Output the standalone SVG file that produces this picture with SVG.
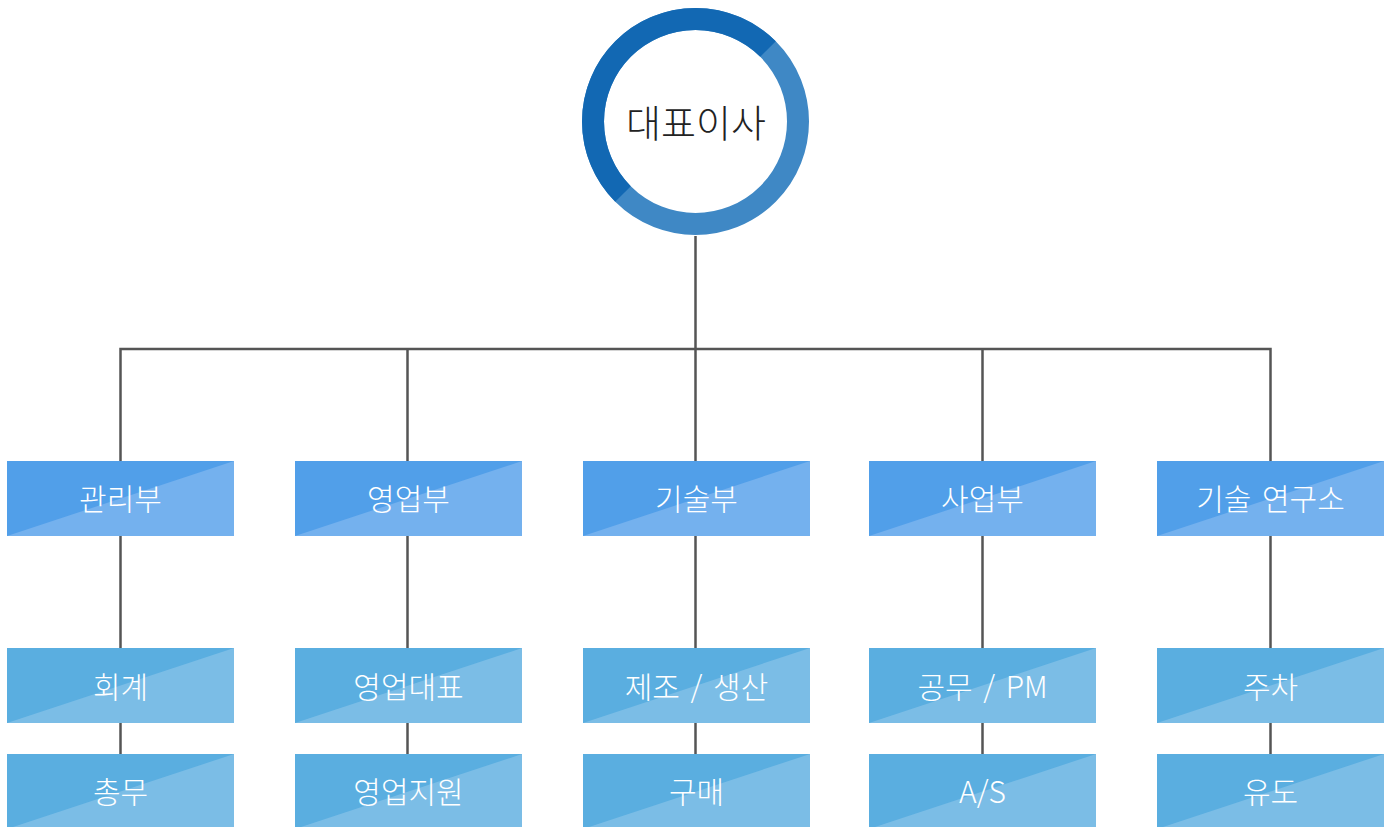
<svg xmlns="http://www.w3.org/2000/svg" width="1389" height="827" viewBox="0 0 1389 827">
<defs>
<style>
.ln{stroke:#555;stroke-width:2.5;fill:none}
.t{font-family:"Noto Sans CJK KR","Noto Sans",sans-serif;font-weight:300;font-size:30px;word-spacing:4px;fill:#fff;text-anchor:middle;dominant-baseline:central}
.d1{fill:#519FE9}.l1{fill:#74B1EE}
.d2{fill:#5AAEE0}.l2{fill:#7BBDE6}
</style>
</defs>
<rect width="1389" height="827" fill="#fff"/>
<g id="connectors">
<path class="ln" d="M695.5 236V349M120.5 461V349H1270.5V461M407.5 349V461M695.5 349V461M982.5 349V461"/>
<path class="ln" d="M120.5 536V754M407.5 536V754M695.5 536V754M982.5 536V754M1270.5 536V754"/>
</g>
<g id="ceo">
<circle cx="695.5" cy="121.5" r="102.5" fill="#fff" stroke="#3F88C5" stroke-width="22"/>
<path d="M768 49A102.5 102.5 0 0 0 623 194" fill="none" stroke="#1268B3" stroke-width="22"/>
<text x="696" y="120" style="font-family:'Noto Sans CJK KR','Noto Sans',sans-serif;font-weight:300;font-size:38px;fill:#222;text-anchor:middle;dominant-baseline:central">대표이사</text>
</g>
<g id="n1"><rect class="d1" x="7" y="461" width="227" height="75"/><path class="l1" d="M7 536L234 461V536Z"/><text class="t" x="120.5" y="497">관리부</text></g>
<g id="n2"><rect class="d1" x="295" y="461" width="227" height="75"/><path class="l1" d="M295 536L522 461V536Z"/><text class="t" x="408.5" y="497">영업부</text></g>
<g id="n3"><rect class="d1" x="583" y="461" width="227" height="75"/><path class="l1" d="M583 536L810 461V536Z"/><text class="t" x="696.5" y="497">기술부</text></g>
<g id="n4"><rect class="d1" x="869" y="461" width="227" height="75"/><path class="l1" d="M869 536L1096 461V536Z"/><text class="t" x="982.5" y="497">사업부</text></g>
<g id="n5"><rect class="d1" x="1157" y="461" width="227" height="75"/><path class="l1" d="M1157 536L1384 461V536Z"/><text class="t" x="1270.5" y="497">기술 연구소</text></g>
<g id="n6"><rect class="d2" x="7" y="648" width="227" height="75"/><path class="l2" d="M7 723L234 648V723Z"/><text class="t" x="120.5" y="685">회계</text></g>
<g id="n7"><rect class="d2" x="295" y="648" width="227" height="75"/><path class="l2" d="M295 723L522 648V723Z"/><text class="t" x="408.5" y="685">영업대표</text></g>
<g id="n8"><rect class="d2" x="583" y="648" width="227" height="75"/><path class="l2" d="M583 723L810 648V723Z"/><text class="t" x="696.5" y="685">제조 / 생산</text></g>
<g id="n9"><rect class="d2" x="869" y="648" width="227" height="75"/><path class="l2" d="M869 723L1096 648V723Z"/><text class="t" x="982.5" y="685">공무 / PM</text></g>
<g id="n10"><rect class="d2" x="1157" y="648" width="227" height="75"/><path class="l2" d="M1157 723L1384 648V723Z"/><text class="t" x="1270.5" y="685">주차</text></g>
<g id="n11"><rect class="d2" x="7" y="754" width="227" height="75"/><path class="l2" d="M7 829L234 754V829Z"/><text class="t" x="120.5" y="790">총무</text></g>
<g id="n12"><rect class="d2" x="295" y="754" width="227" height="75"/><path class="l2" d="M295 829L522 754V829Z"/><text class="t" x="408.5" y="790">영업지원</text></g>
<g id="n13"><rect class="d2" x="583" y="754" width="227" height="75"/><path class="l2" d="M583 829L810 754V829Z"/><text class="t" x="696.5" y="790">구매</text></g>
<g id="n14"><rect class="d2" x="869" y="754" width="227" height="75"/><path class="l2" d="M869 829L1096 754V829Z"/><text class="t" x="982.5" y="790">A/S</text></g>
<g id="n15"><rect class="d2" x="1157" y="754" width="227" height="75"/><path class="l2" d="M1157 829L1384 754V829Z"/><text class="t" x="1270.5" y="790">유도</text></g>
</svg>
